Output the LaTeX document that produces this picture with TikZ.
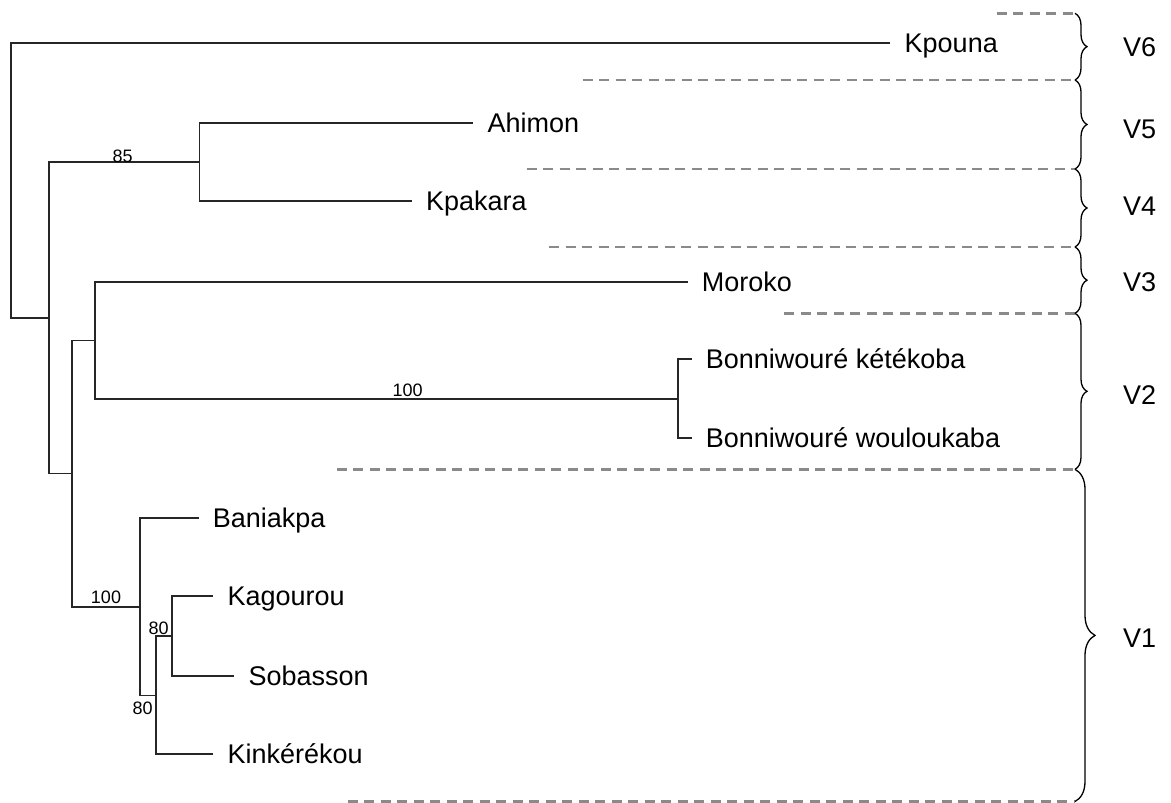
\documentclass[tikz,border=0pt]{standalone}
\usepackage{fontspec}
\setmainfont{Liberation Sans}
\usetikzlibrary{decorations.pathreplacing}
\definecolor{treec}{HTML}{262626}
\definecolor{dashc}{HTML}{8A8A8A}
\tikzset{
  tree/.style={draw=treec, line width=1.8pt, line cap=rect},
  leaf/.style={anchor=west, inner xsep=15pt, inner ysep=0pt, text height=19.3pt, text depth=0pt,
               font=\fontsize{27}{30}\selectfont},
  boot/.style={inner sep=0pt, text height=12.9pt, text depth=0pt, font=\fontsize{18}{20}\selectfont},
  vlab/.style={anchor=west, inner sep=0pt, text height=19.3pt, text depth=0pt, font=\fontsize{27}{30}\selectfont},
  sep/.style={draw=dashc, line width=2.7pt, dash pattern=on 10pt off 6.5pt},
  brc/.style={draw=black, line width=1.3pt, decorate, decoration={brace, amplitude=#1}},
}
\begin{document}
\begin{tikzpicture}[x=1pt, y=-1pt]
\useasboundingbox[fill=white] (0,0) rectangle (1171,803);

% leaves
\node[leaf] (kp) at (889.5,43.3) {Kpouna};
\node[leaf] (ah) at (472.3,123.3) {Ahimon};
\node[leaf] (ka) at (411,201) {Kpakara};
\node[leaf] (mo) at (686.7,281.7) {Moroko};
\node[leaf] (bk) at (690.7,359.3) {Bonniwouré kétékoba};
\node[leaf] (bw) at (690.7,438.3) {Bonniwouré wouloukaba};
\node[leaf] (ba) at (197.7,518.3) {Baniakpa};
\node[leaf] (kg) at (212.3,596) {Kagourou};
\node[leaf] (so) at (233.3,676) {Sobasson};
\node[leaf] (ki) at (212.3,754.3) {Kinkérékou};

% internal nodes
\coordinate (r) at (11,180);
\coordinate (a) at (49.3,317.7);
\coordinate (b) at (199.5,162.2);
\coordinate (c) at (72.3,473.5);
\coordinate (d) at (95,340.4);
\coordinate (e) at (677.7,398.8);
\coordinate (f) at (140.3,606.7);
\coordinate (g) at (156.3,695.5);
\coordinate (h) at (171.7,636.2);

% connectors
\draw[tree] (kp.west) -| (r) |- (a);
\draw[tree] (b) -| (a) |- (c);
\draw[tree] (ah.west) -| (b) |- (ka.west);
\draw[tree] (d) -| (c) |- (f);
\draw[tree] (mo.west) -| (d) |- (e);
\draw[tree] (bk.west) -| (e) |- (bw.west);
\draw[tree] (ba.west) -| (f) |- (g);
\draw[tree] (h) -| (g) |- (ki.west);
\draw[tree] (kg.west) -| (h) |- (so.west);

% bootstrap values
\node[boot] (b85) at (122.7,155.7) {85};
\node[boot] (b100a) at (407.6,390) {100};
\node[boot] (b100b) at (106,596.7) {100};
\node[boot] (b80a) at (158.7,627.7) {80};
\node[boot] (b80b) at (142.7,708.3) {80};

% group separators
\coordinate (s0) at (1075,13.3);
\coordinate (s1) at (1075,80);
\coordinate (s2) at (1075,169);
\coordinate (s3) at (1075,247);
\coordinate (s4) at (1075,313.3);
\coordinate (s5) at (1075,469.3);
\coordinate (s6) at (1075,801.5);
\draw[sep] (996.7,13.3) -- (s0);
\draw[sep] (582.7,80) -- (s1);
\draw[sep] (526.7,169) -- (s2);
\draw[sep] (549,247) -- (s3);
\draw[sep] (784.3,313.3) -- (s4);
\draw[sep] (336.8,469.3) -- (s5);
\draw[sep] (347.5,801.5) -- (s6);

% braces
\draw[brc=12pt] (s0) -- (s1);
\draw[brc=12pt] (s1) -- (s2);
\draw[brc=12pt] (s2) -- (s3);
\draw[brc=12pt] (s3) -- (s4);
\draw[brc=12pt] (s4) -- (s5);
\draw[brc=20pt] (s5) -- (s6);

% group labels
\node[vlab] (v6) at (1123,47.3) {V6};
\node[vlab] (v5) at (1123,128.5) {V5};
\node[vlab] (v4) at (1123,206) {V4};
\node[vlab] (v3) at (1123,282) {V3};
\node[vlab] (v2) at (1123,394.5) {V2};
\node[vlab] (v1) at (1123,638) {V1};
\end{tikzpicture}
\end{document}
